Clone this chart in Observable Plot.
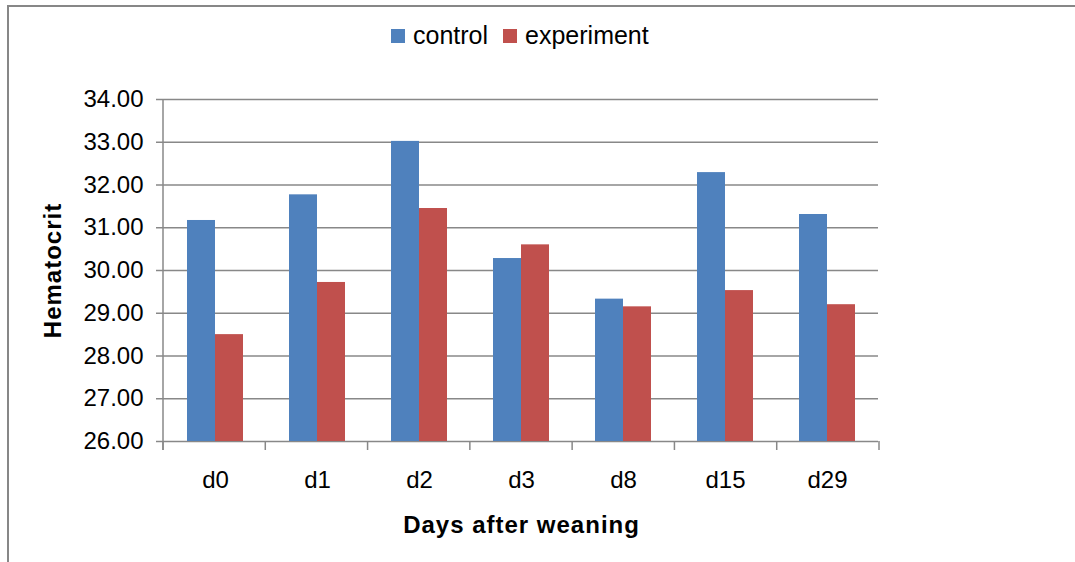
<!DOCTYPE html>
<html><head><meta charset="utf-8">
<script src="https://cdn.jsdelivr.net/npm/d3@7"></script>
<script src="https://cdn.jsdelivr.net/npm/@observablehq/plot@0.6"></script>
<style>
html,body{margin:0;padding:0;background:#fff;}
#wrap{position:relative;width:1075px;height:562px;overflow:hidden;font-family:"Liberation Sans",Arial,sans-serif;background:#fff;}
#border{position:absolute;left:7px;top:5px;width:2000px;height:2000px;border-top:2px solid #878787;border-left:2px solid #878787;}
#chart{position:absolute;left:0;top:0;}
#legend{position:absolute;left:391px;top:20px;display:flex;align-items:center;font-size:25px;line-height:30px;color:#000;}
#legend .sw{width:14px;height:14px;display:inline-block;margin-right:8px;position:relative;top:1px;}
#legend .item{display:flex;align-items:center;margin-right:15px;}
#chart g[aria-label="y-axis label"] text, #chart g[aria-label="fx-axis label"] text{font-weight:bold;letter-spacing:1px;}
</style>
</head><body>
<div id="wrap">
  <div id="border"></div>
  <div id="chart"></div>
  <div id="legend"></div>
</div>
<script>
const days = ["d0", "d1", "d2", "d3", "d8", "d15", "d29"];
const series = ["control", "experiment"];
const control = [31.17, 31.77, 33.02, 30.28, 29.33, 32.29, 31.31];
const experiment = [28.50, 29.72, 31.45, 30.60, 29.15, 29.53, 29.20];
const yTicks = [26, 27, 28, 29, 30, 31, 32, 33, 34];
const colors = ["#4F81BD", "#C0504D"];

const data = [];
days.forEach((d, i) => {
  data.push({day: d, series: "control", value: control[i]});
  data.push({day: d, series: "experiment", value: experiment[i]});
});

const gray = "#888888";
const chart = Plot.plot({
  width: 1075,
  height: 562,
  marginTop: 99,
  marginBottom: 121,
  marginLeft: 163,
  marginRight: 196,
  style: {fontFamily: '"Liberation Sans", Arial, sans-serif', fontSize: "24px", color: "#000", background: "transparent"},
  fx: {domain: days, padding: 0},
  x: {domain: series, paddingInner: 0, paddingOuter: 0.77, axis: null},
  y: {domain: [26, 34]},
  color: {domain: series, range: colors},
  marks: [
    Plot.gridY(yTicks, {stroke: gray, strokeOpacity: 1, strokeWidth: 1.5}),
    Plot.barY(data, {fx: "day", x: "series", y1: 26, y2: "value", fill: "series"}),
    Plot.axisY(yTicks, {
      tickFormat: d => d.toFixed(2), tickSize: 8, tickPadding: 13,
      stroke: gray, strokeWidth: 1.5, fill: "#000", fontSize: 24,
      label: "Hematocrit", labelAnchor: "center", labelOffset: 121, labelArrow: "none"
    }),
    Plot.axisFx({
      anchor: "bottom",
      tickSize: 0, tickPadding: 29, fontSize: 24, fill: "#000",
      label: "Days after weaning", labelAnchor: "center", labelOffset: 91, labelArrow: "none"
    })
  ]
});
document.getElementById("chart").appendChild(chart);

// axis line and category boundary ticks, derived from the plot's scales
const fxs = chart.scale("fx");
const ys = chart.scale("y");
const [x0, x1] = fxs.range;
const n = fxs.domain.length;
const step = (x1 - x0) / n;
const yb = ys.range[0], yt = ys.range[1];
const g = d3.select(chart).append("g").attr("stroke", gray).attr("stroke-width", 1.5);
g.append("line").attr("x1", x0).attr("x2", x0).attr("y1", yt).attr("y2", yb + 9);
for (let i = 0; i <= n; i++) {
  const x = x0 + i * step;
  g.append("line").attr("x1", x).attr("x2", x).attr("y1", yb).attr("y2", yb + 9);
}

// legend
const leg = d3.select("#legend");
series.forEach((s, i) => {
  const it = leg.append("div").attr("class", "item");
  it.append("span").attr("class", "sw").style("background", colors[i]);
  it.append("span").text(s);
});
</script>
</body></html>
